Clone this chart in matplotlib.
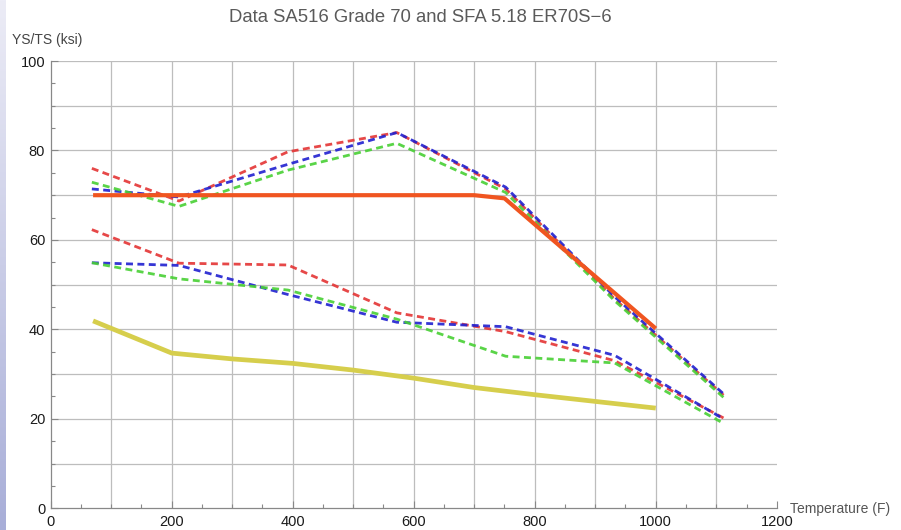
import numpy as np
import matplotlib
matplotlib.use("Agg")
import matplotlib.pyplot as plt

plt.rcParams["font.family"] = ["Liberation Sans", "DejaVu Sans"]

# Test temperatures (F) for the measured curves
temps = [68, 212, 392, 572, 752, 932, 1112]

# Tensile strength (ksi), three data sets
ts_red = [76.0, 68.7, 79.7, 84.0, 71.4, 46.8, 25.3]
ts_blue = [71.4, 69.6, 76.9, 84.0, 71.8, 47.3, 25.6]
ts_green = [72.9, 67.5, 75.6, 81.6, 70.6, 46.4, 24.8]

# Yield strength (ksi), three data sets
ys_red = [62.3, 54.8, 54.4, 43.7, 39.5, 33.0, 20.2]
ys_blue = [54.9, 54.3, 47.8, 41.6, 40.6, 34.2, 20.0]
ys_green = [54.9, 51.3, 48.8, 42.3, 34.0, 32.5, 19.0]

# Code minimum tensile strength
ts_min_temps = [70, 700, 750, 1000]
ts_min = [70.0, 70.0, 69.3, 40.2]

# Code yield strength
ys_min_temps = [70, 200, 300, 400, 500, 600, 700, 800, 900, 1000]
ys_min = [41.9, 34.7, 33.4, 32.4, 30.9, 29.1, 27.0, 25.4, 23.9, 22.4]

grid_x = [100, 200, 300, 400, 500, 600, 700, 800, 900, 1000, 1100]
grid_y = [10, 20, 30, 40, 50, 60, 70, 80, 90, 100]

RED = "#e43434"
BLUE = "#2020d0"
GREEN = "#48d034"

fig = plt.figure(figsize=(9.01, 5.30), dpi=100)
ax = fig.add_axes([0.0563, 0.0409, 0.8058, 0.844])

for gx in grid_x:
    ax.axvline(gx, color="#bdbdbd", lw=0.9, zorder=0)
for gy in grid_y:
    ax.axhline(gy, color="#bdbdbd", lw=0.9, zorder=0)

dash = (2.5, 1.6)
for vals, c in [(ts_red, RED), (ts_blue, BLUE), (ts_green, GREEN),
                (ys_red, RED), (ys_blue, BLUE), (ys_green, GREEN)]:
    ax.plot(temps, vals, color=c, lw=2.0, dashes=dash, alpha=0.9, zorder=3)

ax.plot(ts_min_temps, ts_min, color="#f05520", lw=3.0, zorder=4,
        solid_capstyle="butt")
ax.plot(ys_min_temps, ys_min, color="#d6ce4c", lw=3.4, zorder=4,
        solid_capstyle="butt")

ax.set_xlim(0, 1200)
ax.set_ylim(0, 100)
ax.set_xticks([0, 200, 400, 600, 800, 1000, 1200])
ax.set_xticks(np.arange(0, 1201, 50), minor=True)
ax.set_yticks([0, 20, 40, 60, 80, 100])
ax.set_yticks(np.arange(0, 101, 5), minor=True)
ax.tick_params(which="both", direction="in", color="#888888", width=0.8,
               labelsize=10.5, labelcolor="#1a1a1a", pad=4)
ax.tick_params(which="major", length=5)
ax.tick_params(which="minor", length=3)
ax.tick_params(axis="x", pad=5)

for side in ["top", "right"]:
    ax.spines[side].set_visible(False)
for side in ["left", "bottom"]:
    ax.spines[side].set_color("#888888")
    ax.spines[side].set_linewidth(0.9)
ax.patch.set_visible(False)

fig.text(420 / 901, 1 - 18 / 530, "Data SA516 Grade 70 and SFA 5.18 ER70S\u22126",
         ha="center", va="center", fontsize=13.3, color="#5a5a5a")
fig.text(12 / 901, 1 - 40 / 530, "YS/TS (ksi)", ha="left", va="center",
         fontsize=10, color="#444444")
fig.text(790 / 901, 1 - 509 / 530, "Temperature (F)", ha="left", va="center",
         fontsize=10, color="#555555")

# lavender strip along the left edge
strip = fig.add_axes([0, 0, 6 / 901, 1])
grad = np.linspace(0, 1, 256).reshape(-1, 1)
strip.imshow(grad, aspect="auto", cmap=matplotlib.colors.LinearSegmentedColormap.from_list(
    "edge", ["#a8aed8", "#ececf6"]), origin="lower")
strip.axis("off")

fig.savefig("out.png", dpi=100)
